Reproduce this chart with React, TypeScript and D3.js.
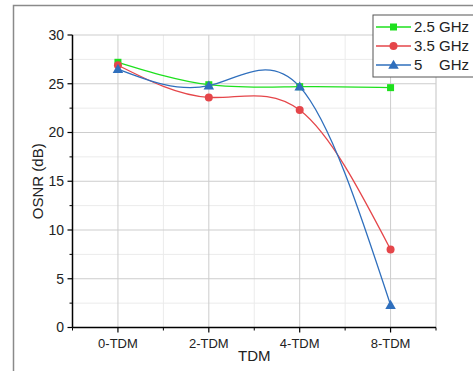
import React from "react";
import * as d3 from "d3";

const categories = ["0-TDM", "2-TDM", "4-TDM", "8-TDM"];
const seriesNames = ["2.5 GHz", "3.5 GHz", "5    GHz"];
const green25 = [27.2, 24.9, 24.7, 24.6];
const red35 = [26.9, 23.6, 22.3, 8.0];
const blue5 = [26.5, 24.8, 24.7, 2.3];
const yTicks = [0, 5, 10, 15, 20, 25, 30];

const W = 473, H = 371;
const left = 72.5, right = 436, top = 35, bottom = 327.5;

export default function App() {
  const x = d3.scaleLinear().domain([-0.5, 3.5]).range([left, right]);
  const y = d3.scaleLinear().domain([0, 30]).range([bottom, top]);
  const series = [
    { name: seriesNames[0], values: green25, color: "#1ee01e", shape: "square" },
    { name: seriesNames[1], values: red35, color: "#e5464a", shape: "circle" },
    { name: seriesNames[2], values: blue5, color: "#2f6fbd", shape: "triangle" },
  ];
  const line = d3
    .line<number>()
    .x((_, i) => x(i))
    .y((v) => y(v))
    .curve(d3.curveNatural);

  const minorX = d3.range(-0.5, 3.51, 1);
  const minorY = d3.range(2.5, 30, 5);
  const marker = (shape: string, cx: number, cy: number, color: string, key: any) => {
    if (shape === "square")
      return <rect key={key} x={cx - 3.5} y={cy - 3.5} width={7} height={7} fill={color} />;
    if (shape === "circle") return <circle key={key} cx={cx} cy={cy} r={4} fill={color} />;
    const sym = d3.symbol(d3.symbolTriangle, 48)();
    return <path key={key} d={sym as string} transform={`translate(${cx},${cy + 0.8})`} fill={color} />;
  };

  return (
    <svg
      width={W}
      height={H}
      style={{ position: "absolute", left: 0, top: 0, background: "#fff" }}
      fontFamily="Liberation Sans, Arial, sans-serif"
    >
      <rect x={13.5} y={5.5} width={W} height={H} fill="none" stroke="#8a8a8a" strokeWidth={1.5} />
      {/* minor grid */}
      {minorX.map((v, i) => (
        <line key={"mx" + i} x1={x(v)} x2={x(v)} y1={top} y2={bottom} stroke="#ebebeb" strokeWidth={1} />
      ))}
      {minorY.map((v, i) => (
        <line key={"my" + i} x1={left} x2={right} y1={y(v)} y2={y(v)} stroke="#ebebeb" strokeWidth={1} />
      ))}
      {/* major grid */}
      {categories.map((c, i) => (
        <line key={"gx" + i} x1={x(i)} x2={x(i)} y1={top} y2={bottom} stroke="#cdcdcd" strokeWidth={1} />
      ))}
      <line x1={right} x2={right} y1={top} y2={bottom} stroke="#cdcdcd" strokeWidth={1} />
      {yTicks.slice(1).map((v) => (
        <line key={"gy" + v} x1={left} x2={right} y1={y(v)} y2={y(v)} stroke="#cdcdcd" strokeWidth={1} />
      ))}
      {/* axes */}
      <line x1={left} x2={left} y1={top} y2={bottom} stroke="#000" strokeWidth={1.5} />
      <line x1={left} x2={right} y1={bottom} y2={bottom} stroke="#000" strokeWidth={1.5} />
      {yTicks.map((v) => (
        <g key={"yt" + v}>
          <line x1={left - 5} x2={left} y1={y(v)} y2={y(v)} stroke="#000" strokeWidth={1.2} />
          <text x={left - 8.5} y={y(v)} dy="0.35em" textAnchor="end" fontSize={14} fill="#222">
            {v}
          </text>
        </g>
      ))}
      {minorY.map((v, i) => (
        <line key={"ymt" + i} x1={left - 3} x2={left} y1={y(v)} y2={y(v)} stroke="#000" strokeWidth={1} />
      ))}
      {categories.map((c, i) => (
        <g key={"xt" + i}>
          <line x1={x(i)} x2={x(i)} y1={bottom} y2={bottom + 5} stroke="#000" strokeWidth={1.2} />
          <text x={x(i)} y={bottom + 20} textAnchor="middle" fontSize={13} fill="#222">
            {c}
          </text>
        </g>
      ))}
      {minorX.map((v, i) => (
        <line key={"xmt" + i} x1={x(v)} x2={x(v)} y1={bottom} y2={bottom + 3} stroke="#000" strokeWidth={1} />
      ))}
      <text x={(left + right) / 2} y={361} textAnchor="middle" fontSize={15} fill="#222">
        TDM
      </text>
      <text
        transform={`translate(43,${(top + bottom) / 2}) rotate(-90)`}
        textAnchor="middle"
        fontSize={15}
        fill="#222"
      >
        OSNR (dB)
      </text>
      {/* series */}
      {series.map((s) => (
        <g key={s.name}>
          <path d={line(s.values) as string} fill="none" stroke={s.color} strokeWidth={1.3} />
          {s.values.map((v, i) => marker(s.shape, x(i), y(v), s.color, i))}
        </g>
      ))}
      {/* legend */}
      <rect x={373} y={15} width={110} height={62} fill="#fff" stroke="#555" strokeWidth={1} />
      {series.map((s, i) => (
        <g key={"lg" + i} transform={`translate(0,${27 + i * 19})`}>
          <line x1={376} x2={411} y1={0} y2={0} stroke={s.color} strokeWidth={1.3} />
          {marker(s.shape, 393.5, 0, s.color, "m")}
          <text x={414} y={0} dy="0.36em" fontSize={15} fill="#222" style={{ whiteSpace: "pre" }}>
            {s.name}
          </text>
        </g>
      ))}
    </svg>
  );
}
